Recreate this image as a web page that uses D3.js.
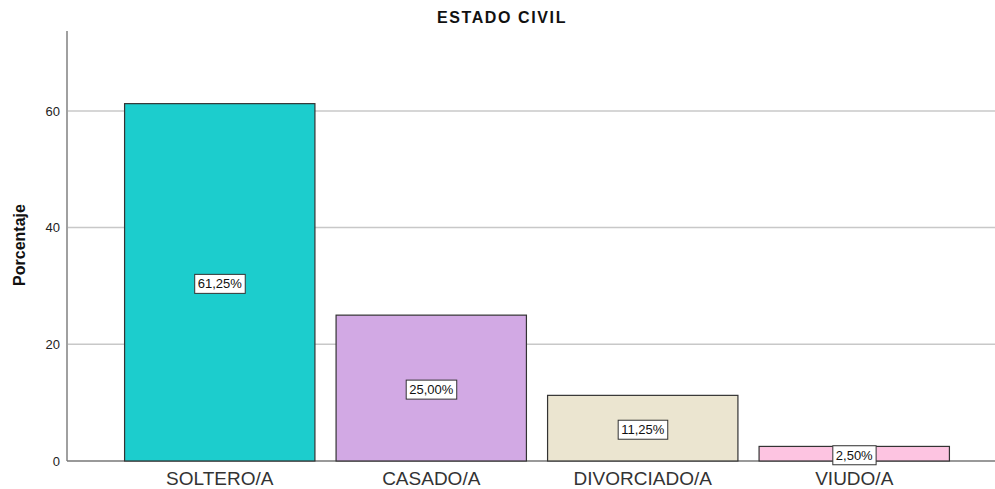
<!DOCTYPE html>
<html>
<head>
<meta charset="utf-8">
<script src="https://cdn.jsdelivr.net/npm/d3@7"></script>
<style>
  body { margin: 0; background: #fff; }
  svg { display: block; font-family: Arial, "Liberation Sans", sans-serif; }
</style>
</head>
<body>
<div class="chart"></div>
<script>
// Data
const categories = ["SOLTERO/A", "CASADO/A", "DIVORCIADO/A", "VIUDO/A"];
const percents = [61.25, 25.0, 11.25, 2.5];
const barColors = ["#1ccdcd", "#d2a9e4", "#ebe5d0", "#fdc4e1"];
const yTicks = [0, 20, 40, 60];

const width = 995;
const height = 489;
const plot = { left: 67, right: 995, top: 31, bottom: 461 };

const svg = d3.select(".chart")
  .append("svg")
  .attr("width", width)
  .attr("height", height);

const x = d3.scaleBand()
  .domain(categories)
  .range([114, 960])
  .paddingInner(0.1)
  .paddingOuter(0.05);

const y = d3.scaleLinear()
  .domain([0, 73.7])
  .range([plot.bottom, plot.top]);

// Gridlines
svg.append("g")
  .selectAll("line")
  .data(yTicks.filter(d => d > 0))
  .enter()
  .append("line")
  .attr("x1", plot.left)
  .attr("x2", plot.right)
  .attr("y1", d => y(d))
  .attr("y2", d => y(d))
  .attr("stroke", "#c8c8c8")
  .attr("stroke-width", 1.5);

// Y axis
const yAxis = svg.append("g")
  .attr("transform", `translate(${plot.left},0)`)
  .call(d3.axisLeft(y).tickValues(yTicks).tickSize(0).tickPadding(7));
yAxis.select(".domain").remove();
yAxis.selectAll("text")
  .attr("font-size", 13)
  .attr("fill", "#222")
  .attr("font-family", "Arial, 'Liberation Sans', sans-serif");

svg.append("line")
  .attr("x1", plot.left)
  .attr("x2", plot.left)
  .attr("y1", plot.top)
  .attr("y2", plot.bottom)
  .attr("stroke", "#a0a0a0")
  .attr("stroke-width", 2);

// Baseline
svg.append("line")
  .attr("x1", plot.left)
  .attr("x2", plot.right)
  .attr("y1", y(0))
  .attr("y2", y(0))
  .attr("stroke", "#777")
  .attr("stroke-width", 1.5);

// Bars
svg.append("g")
  .selectAll("rect")
  .data(categories)
  .enter()
  .append("rect")
  .attr("x", d => x(d))
  .attr("y", (d, i) => y(percents[i]))
  .attr("width", x.bandwidth())
  .attr("height", (d, i) => y(0) - y(percents[i]))
  .attr("fill", (d, i) => barColors[i])
  .attr("stroke", "#333")
  .attr("stroke-width", 1.2);

// Value labels in boxes
const fmt = v => v.toFixed(2).replace(".", ",") + "%";
const labels = svg.append("g")
  .selectAll("g")
  .data(categories)
  .enter()
  .append("g")
  .attr("transform", (d, i) =>
    `translate(${x(d) + x.bandwidth() / 2},${y(percents[i] / 2) + 1.5})`);

labels.append("text")
  .attr("text-anchor", "middle")
  .attr("dy", "0.35em")
  .attr("font-size", 13)
  .attr("fill", "#111")
  .text((d, i) => fmt(percents[i]))
  .each(function () {
    const bb = this.getBBox();
    d3.select(this.parentNode)
      .insert("rect", "text")
      .attr("x", bb.x - 3)
      .attr("y", bb.y - 2)
      .attr("width", bb.width + 6)
      .attr("height", bb.height + 4)
      .attr("fill", "#fff")
      .attr("stroke", "#333")
      .attr("stroke-width", 1);
  });

// Category labels
svg.append("g")
  .selectAll("text")
  .data(categories)
  .enter()
  .append("text")
  .attr("x", d => x(d) + x.bandwidth() / 2)
  .attr("y", 485)
  .attr("text-anchor", "middle")
  .attr("font-size", 19)
  .attr("fill", "#333")
  .text(d => d);

// Title
svg.append("text")
  .attr("x", 502)
  .attr("y", 23)
  .attr("text-anchor", "middle")
  .attr("font-size", 16)
  .attr("font-weight", "bold")
  .attr("letter-spacing", 1.6)
  .attr("fill", "#111")
  .text("ESTADO CIVIL");

// Y axis title
svg.append("text")
  .attr("transform", "translate(25,245) rotate(-90)")
  .attr("text-anchor", "middle")
  .attr("font-size", 16)
  .attr("font-weight", "bold")
  .attr("fill", "#111")
  .text("Porcentaje");
</script>
</body>
</html>
